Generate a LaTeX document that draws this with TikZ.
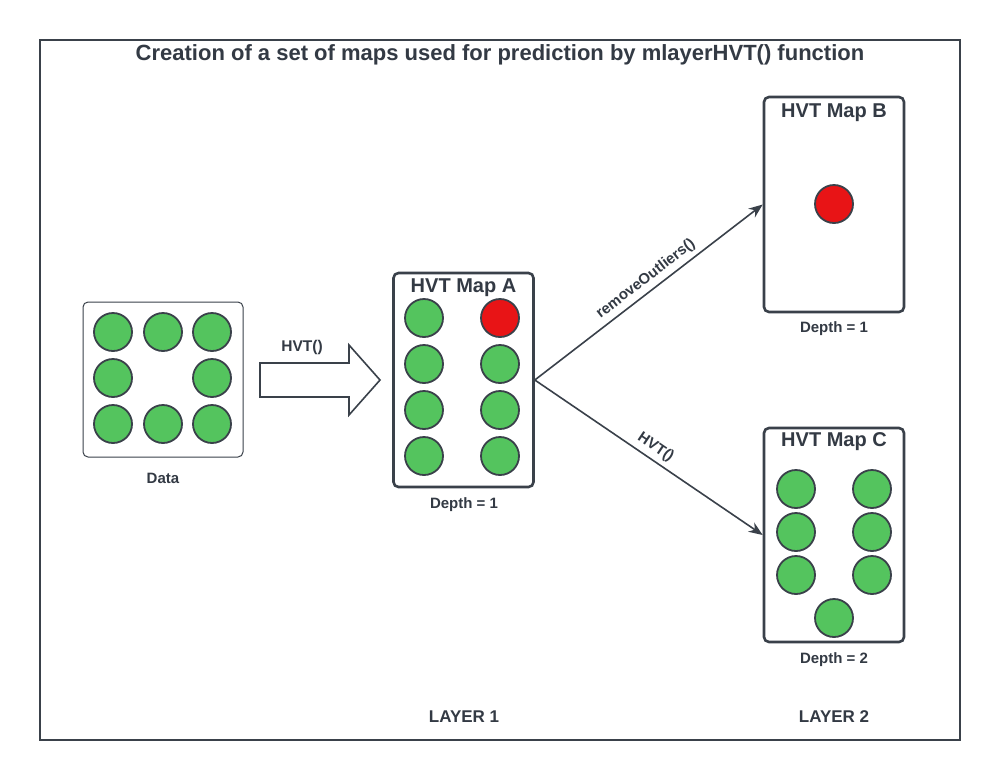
\documentclass[tikz,border=0pt]{standalone}
\usepackage{fontspec}
\setmainfont{Liberation Sans}
\usetikzlibrary{arrows.meta}
\definecolor{ink}{HTML}{3A414A}
\definecolor{txt}{HTML}{333A44}
\definecolor{dotgreen}{HTML}{54C45E}
\definecolor{dotred}{HTML}{E81416}
\tikzset{
  frame/.style={draw=ink, line width=1.6pt},
  mapbox/.style={draw=ink, line width=2.6pt, rounded corners=5pt, fill=white},
  databox/.style={draw=ink, line width=1pt, rounded corners=5pt, fill=white},
  gdot/.style={circle, draw=ink, line width=1.8pt, fill=dotgreen, minimum size=38pt, inner sep=0pt},
  rdot/.style={circle, draw=ink, line width=1.8pt, fill=dotred, minimum size=38pt, inner sep=0pt},
  lbl/.style={text=txt, font=\fontsize{15}{17}\selectfont\bfseries, inner sep=0pt},
  maptitle/.style={text=txt, font=\fontsize{20}{23}\selectfont\bfseries, inner sep=0pt},
  conn/.style={draw=ink, line width=1.6pt, -{Stealth[length=14pt,width=11pt]}},
  edgelbl/.style={text=txt, font=\fontsize{15}{17}\selectfont\bfseries, inner sep=4.5pt},
  layerlbl/.style={text=txt, font=\fontsize{17}{20}\selectfont\bfseries, inner sep=0pt},
}
\begin{document}
\begin{tikzpicture}[x=1pt,y=-1pt]
\useasboundingbox (0,0) rectangle (1000,780);
\fill[white] (0,0) rectangle (1000,780);
\draw[frame] (40,40) rectangle (960,740);
\node[text=txt, font=\fontsize{22}{25}\selectfont\bfseries, inner sep=0pt] (title) at (500,55) {Creation of a set of maps used for prediction by mlayerHVT() function};

% Data
\draw[databox] (83,302) rectangle (243,457);
\node[lbl] (datalbl) at (163,478) {Data};
\foreach \x/\y [count=\i] in {113/332,163/332,212/332,113/378,212/378,113/424,163/424,212/424}
  \node[gdot] (d\i) at (\x,\y) {};

% big arrow
\draw[ink, line width=1.6pt, fill=white, line join=miter]
  (260,363) -- (349,363) -- (349,345) -- (380,380) -- (349,415) -- (349,397) -- (260,397) -- cycle;
\node[lbl, font=\fontsize{15.5}{17}\selectfont\bfseries] (hvtbig) at (302,347) {HVT()};

% Map A
\node[mapbox, minimum width=140pt, minimum height=214pt, inner sep=0pt] (mapA) at (463.5,380) {};
\node[maptitle] (tA) at (463.5,288) {HVT Map A};
\node[gdot] (a1) at (424,318) {};
\node[rdot] (a2) at (500,318) {};
\node[gdot] (a3) at (424,364) {};
\node[gdot] (a4) at (500,364) {};
\node[gdot] (a5) at (424,410) {};
\node[gdot] (a6) at (500,410) {};
\node[gdot] (a7) at (424,456) {};
\node[gdot] (a8) at (500,456) {};
\node[lbl] (depA) at (464,505) {Depth = 1};

% Map B
\node[mapbox, minimum width=140pt, minimum height=215pt, inner sep=0pt] (mapB) at (834,204.5) {};
\node[maptitle] (tB) at (834,113) {HVT Map B};
\node[rdot] (b1) at (834,204) {};
\node[lbl] (depB) at (834,329) {Depth = 1};

% Map C
\node[mapbox, minimum width=140pt, minimum height=214pt, inner sep=0pt] (mapC) at (834,535) {};
\node[maptitle] (tC) at (834,442) {HVT Map C};
\node[gdot] (c1) at (796,489) {};
\node[gdot] (c2) at (872,489) {};
\node[gdot] (c3) at (796,532) {};
\node[gdot] (c4) at (872,532) {};
\node[gdot] (c5) at (796,575) {};
\node[gdot] (c6) at (872,575) {};
\node[gdot] (c7) at (834,618) {};
\node[lbl] (depC) at (834,660) {Depth = 2};

% connectors
\coordinate (aout) at (mapA.east);
\draw[conn] (aout) -- (mapB.west) node[edgelbl, sloped, above, pos=0.52] {removeOutliers()};
\draw[conn] (aout) -- (mapC.west) node[edgelbl, sloped, above, pos=0.5] {HVT()};

% layers
\node[layerlbl] (L1) at (464,717) {LAYER 1};
\node[layerlbl] (L2) at (834,717) {LAYER 2};
\end{tikzpicture}
\end{document}
